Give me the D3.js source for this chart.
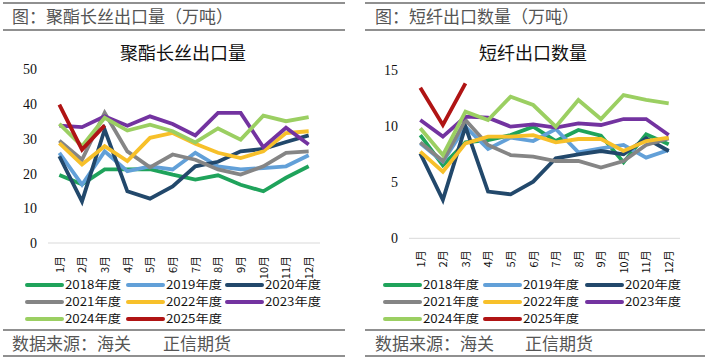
<!DOCTYPE html>
<html><head><meta charset="utf-8">
<script src="https://cdn.jsdelivr.net/npm/d3@7"></script>
<style>body{margin:0;background:#fff}svg{display:block}</style>
</head><body>
<svg id="c" width="710" height="360"></svg>
<script>
const months = ["1月","2月","3月","4月","5月","6月","7月","8月","9月","10月","11月","12月"];
const years = ["2018年度","2019年度","2020年度","2021年度","2022年度","2023年度","2024年度","2025年度"];
const colors = ["#1fa35b","#62a0d8","#22486b","#858585","#f7c02a","#7333a0","#9bcf62","#b01414"];

// 聚酯长丝出口量 (万吨)
const filament2018 = [19.6,16.9,21.2,21.2,21.3,19.7,18.3,19.5,16.8,14.9,18.8,22.1];
const filament2019 = [26.0,16.8,26.4,20.7,22.1,21.2,26.0,22.1,21.2,21.6,22.1,25.3];
const filament2020 = [25.0,12.0,32.7,14.9,12.8,16.3,22.1,23.4,26.4,27.1,29.1,31.0];
const filament2021 = [29.5,24.0,37.5,26.4,21.8,25.5,24.0,21.2,19.7,22.1,26.0,26.4];
const filament2022 = [28.8,22.6,27.9,23.6,30.3,31.7,28.6,26.0,24.5,26.4,31.7,32.2];
const filament2023 = [33.8,33.4,36.5,33.8,36.5,34.3,31.0,37.5,37.5,27.6,33.2,28.4];
const filament2024 = [34.3,27.9,36.1,32.4,34.1,32.2,29.0,33.0,29.8,36.7,35.1,36.3];
const filament2025 = [39.9,26.9,33.9];
const filamentTicks = [0,10,20,30,40,50];

// 短纤出口数量 (万吨)
const staple2018 = [9.2,6.5,8.55,8.76,9.2,9.95,8.67,9.65,9.15,6.77,9.27,8.38];
const staple2019 = [8.46,6.83,9.95,7.96,8.97,8.67,9.74,7.66,8.02,8.32,7.19,7.87];
const staple2020 = [7.57,3.42,9.95,4.16,3.92,5.05,7.13,7.48,7.78,7.48,8.91,7.78];
const staple2021 = [8.55,6.89,10.54,8.32,7.42,7.28,6.89,6.89,6.3,6.89,8.32,8.91];
const staple2022 = [7.72,5.94,8.46,9.06,9.06,9.2,8.55,8.85,8.85,7.78,8.67,8.97];
const staple2023 = [10.54,9.06,10.84,10.75,9.95,10.16,9.86,10.25,10.1,10.63,10.63,9.2];
const staple2024 = [9.8,7.42,11.29,10.54,12.62,11.88,9.95,12.33,10.63,12.77,12.33,12.03];
const staple2025 = [13.42,10.1,13.81];
const stapleTicks = [0,5,10,15];

const svg = d3.select("#c");
const cjk = "'Noto Sans CJK SC','Noto Sans',sans-serif";

function panel(o) {
  const g = svg.append("g");
  // header / footer rules
  [3, 30, 330, 356].forEach(y => g.append("line").attr("x1", o.rx0).attr("x2", o.rx1)
    .attr("y1", y).attr("y2", y).attr("stroke", "#222").attr("stroke-width", 1.2));
  g.append("text").attr("x", o.hx).attr("y", 23).attr("font-family", cjk)
    .attr("font-size", 17).attr("fill", "#555").text(o.header);
  g.append("text").attr("x", o.hx).attr("y", 350).attr("font-family", cjk)
    .attr("font-size", 17).attr("fill", "#555").text("数据来源：海关");
  g.append("text").attr("x", o.fx2).attr("y", 350).attr("font-family", cjk)
    .attr("font-size", 17).attr("fill", "#555").text("正信期货");
  g.append("text").attr("x", o.tx).attr("y", 60).attr("text-anchor", "middle")
    .attr("font-family", cjk).attr("font-size", 18).attr("fill", "#111").text(o.title);

  const x = d3.scalePoint().domain(months).range([o.x0, o.x1]).padding(0.5);
  const y = d3.scaleLinear().domain(o.domain).range([o.y0, o.y1]);

  // baseline
  g.append("line").attr("x1", o.x0).attr("x2", o.x1).attr("y1", y(0)).attr("y2", y(0))
    .attr("stroke", "#d9d9d9").attr("stroke-width", 1);

  const ya = g.append("g").attr("transform", `translate(${o.x0 - 11},0)`)
    .call(d3.axisLeft(y).tickValues(o.ticks).tickSize(0).tickPadding(0));
  ya.select(".domain").remove();
  ya.selectAll("text").attr("font-family", "'Liberation Serif',serif").attr("font-size", 14).attr("fill", "#111");

  const xa = g.append("g").attr("transform", `translate(0,${y(0)})`)
    .call(d3.axisBottom(x).tickSize(0).tickPadding(0));
  xa.select(".domain").remove();
  xa.selectAll("text").attr("font-family", cjk).attr("font-size", 11).attr("fill", "#111")
    .attr("text-anchor", "end").attr("dy", "0.35em")
    .attr("transform", `translate(0,${o.lab}) rotate(-90)`).attr("y", 0).attr("x", 0);

  const line = d3.line().x((d, i) => x(months[i])).y(d => y(d));
  o.series.forEach((s, i) => {
    g.append("path").datum(s).attr("d", line).attr("fill", "none")
      .attr("stroke", colors[i]).attr("stroke-width", 3.8).attr("stroke-linejoin", "miter");
  });

  // legend
  const rows = [285, 302, 319];
  years.forEach((yr, i) => {
    const r = Math.floor(i / 3), c = i % 3;
    const lx = o.lcols[c];
    g.append("line").attr("x1", lx).attr("x2", lx + 35).attr("y1", rows[r]).attr("y2", rows[r])
      .attr("stroke", colors[i]).attr("stroke-width", 4).attr("stroke-linecap", "round");
    g.append("text").attr("x", lx + 38).attr("y", rows[r]).attr("dy", "0.36em")
      .attr("font-family", cjk).attr("font-size", 11.6).attr("fill", "#111")
      .attr("textLength", 56).attr("lengthAdjust", "spacingAndGlyphs").text(yr);
  });
}

panel({
  rx0: 3, rx1: 345, hx: 12, fx2: 163,
  header: "图：聚酯长丝出口量（万吨）", title: "聚酯长丝出口量", tx: 183,
  x0: 48, x1: 320, y0: 243, y1: 69.5, domain: [0, 50], ticks: filamentTicks, lab: 13,
  series: [filament2018, filament2019, filament2020, filament2021, filament2022, filament2023, filament2024, filament2025],
  lcols: [27, 128, 227]
});
panel({
  rx0: 365, rx1: 705, hx: 375, fx2: 525,
  header: "图：短纤出口数量（万吨）", title: "短纤出口数量", tx: 533,
  x0: 409, x1: 680, y0: 238.3, y1: 70, domain: [0, 15], ticks: stapleTicks, lab: 12,
  series: [staple2018, staple2019, staple2020, staple2021, staple2022, staple2023, staple2024, staple2025],
  lcols: [385, 485, 587]
});
</script>
</body></html>
